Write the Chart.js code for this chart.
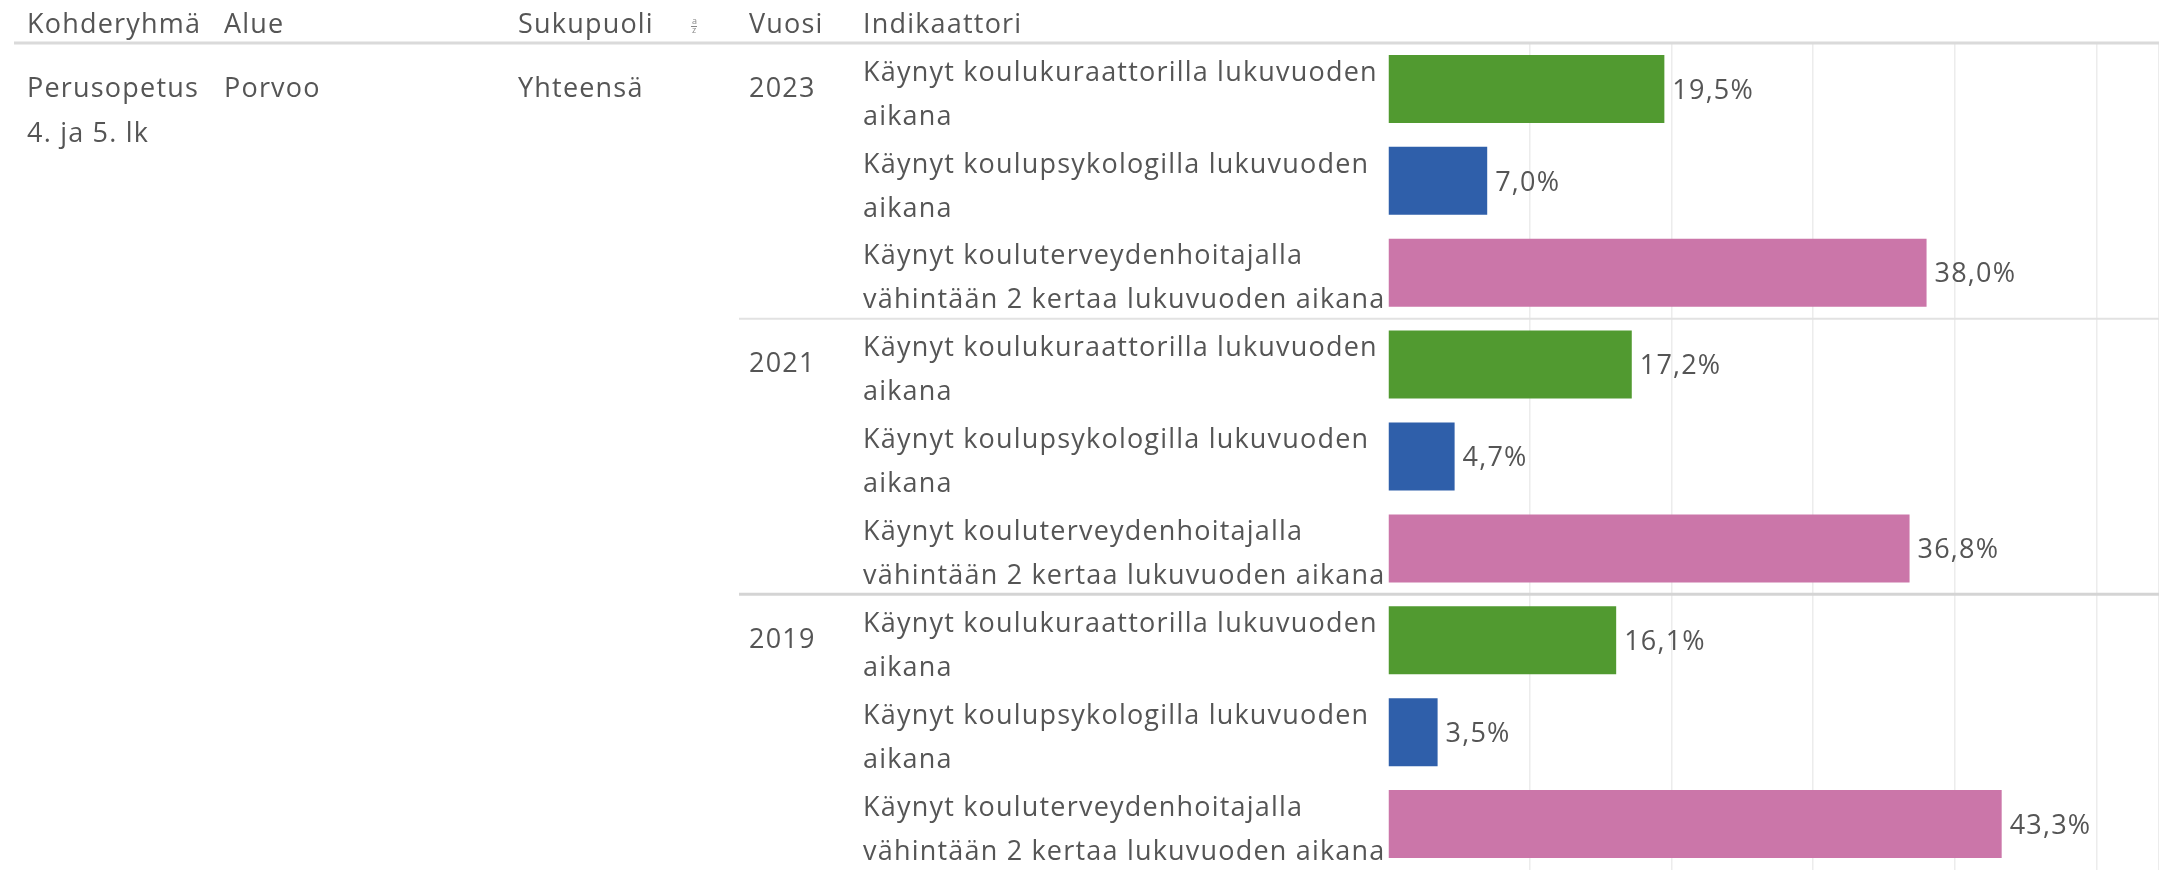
<!DOCTYPE html>
<html lang="fi">
<head>
<meta charset="utf-8">
<title>Kouluterveyskysely</title>
<script src="https://cdn.jsdelivr.net/npm/chart.js@4"></script>
<style>
  html, body { margin: 0; padding: 0; background: #fff; }
  #wrap { width: 2159px; height: 870px; position: relative; }
</style>
</head>
<body>
<div id="wrap"><canvas id="chart" width="2159" height="870"></canvas></div>
<script>
// otsikot ja ryhmät
const headers = ['Kohderyhmä', 'Alue', 'Sukupuoli', 'Vuosi', 'Indikaattori'];
const kohderyhma = ['Perusopetus', '4. ja 5. lk'];
const alue = 'Porvoo';
const sukupuoli = 'Yhteensä';
const years = ['2023', '2021', '2019'];
const indicators = [
  ['Käynyt koulukuraattorilla lukuvuoden', 'aikana'],
  ['Käynyt koulupsykologilla lukuvuoden', 'aikana'],
  ['Käynyt kouluterveydenhoitajalla', 'vähintään 2 kertaa lukuvuoden aikana']
];

// arvot vuosittain (2023, 2021, 2019)
const kuraattori = [19.5, 17.2, 16.1];
const psykologi = [7.0, 4.7, 3.5];
const terveydenhoitaja = [38.0, 36.8, 43.3];

const colors = ['#519a30', '#2f5faa', '#cb76a9'];
const FONT = '"Open Sans", "Noto Sans", sans-serif';
const TEXT = '#555555';
const SIZE = 27;

// rakennetaan rivit: 3 vuotta x 3 indikaattoria
const labels = [];
const values = [];
const barColors = [];
years.forEach((y, i) => {
  [kuraattori, psykologi, terveydenhoitaja].forEach((arr, j) => {
    labels.push(indicators[j]);
    values.push(arr[i]);
    barColors.push(colors[j]);
  });
});

const fmt = v => v.toFixed(1).replace('.', ',') + '%';

// taulukon tekstit, otsikkoviiva ja erotinviivat
const tablePlugin = {
  id: 'table',
  beforeDraw(chart) {
    // Tableau-fontti on harvempi, väljennetään merkkivälejä
    chart.ctx.letterSpacing = '1.2px';
  },
  beforeDatasetsDraw(chart) {
    const ctx = chart.ctx;
    const ys = chart.scales.y;
    const area = chart.chartArea;
    const band = ys.getPixelForValue(1) - ys.getPixelForValue(0);
    ctx.save();
    // otsikkoviiva
    ctx.strokeStyle = '#dadada';
    ctx.lineWidth = 3;
    ctx.beginPath();
    ctx.moveTo(14, area.top);
    ctx.lineTo(chart.width, area.top);
    ctx.stroke();
    // vuosien erottimet
    for (let g = 1; g < years.length; g++) {
      const y = ys.getPixelForValue(g * 3) - band / 2;
      ctx.strokeStyle = g === 1 ? '#e2e2e2' : '#d4d4d4';
      ctx.lineWidth = g === 1 ? 2 : 3;
      ctx.beginPath();
      ctx.moveTo(739, y);
      ctx.lineTo(chart.width, y);
      ctx.stroke();
    }
    ctx.restore();
  },
  afterDraw(chart) {
    const ctx = chart.ctx;
    const ys = chart.scales.y;
    const cols = [27, 224, 518, 749, 863];
    ctx.save();
    ctx.font = SIZE + 'px ' + FONT;
    ctx.fillStyle = TEXT;
    ctx.textBaseline = 'middle';
    ctx.textAlign = 'left';
    headers.forEach((h, i) => ctx.fillText(h, cols[i], 25));
    // lajittelukuvake
    ctx.letterSpacing = '0px';
    ctx.font = '9px ' + FONT;
    ctx.fillStyle = '#888';
    ctx.fillText('a', 692, 21);
    ctx.fillText('z', 692, 30);
    ctx.fillRect(691, 26, 6, 1);
    ctx.letterSpacing = '1.2px';
    ctx.font = SIZE + 'px ' + FONT;
    ctx.fillStyle = TEXT;
    const y0 = ys.getPixelForValue(0);
    ctx.fillText(kohderyhma[0], cols[0], y0);
    ctx.fillText(kohderyhma[1], cols[0], y0 + 45);
    ctx.fillText(alue, cols[1], y0);
    ctx.fillText(sukupuoli, cols[2], y0);
    years.forEach((y, i) => ctx.fillText(y, cols[3], ys.getPixelForValue(i * 3)));
    // arvot palkkien perään
    const meta = chart.getDatasetMeta(0);
    meta.data.forEach((bar, i) => {
      ctx.fillText(fmt(values[i]), bar.x + 8, bar.y + 2);
    });
    ctx.restore();
  }
};

new Chart(document.getElementById('chart'), {
  type: 'bar',
  data: {
    labels: labels,
    datasets: [{
      data: values,
      backgroundColor: barColors,
      borderWidth: 0,
      categoryPercentage: 1,
      barPercentage: 0.74
    }]
  },
  options: {
    indexAxis: 'y',
    responsive: false,
    animation: false,
    events: [],
    layout: { padding: { top: 43, left: 863, right: 0, bottom: 0 } },
    plugins: {
      legend: { display: false },
      title: { display: false },
      tooltip: { enabled: false }
    },
    scales: {
      x: {
        min: 0,
        max: 54.4,
        ticks: { display: false, stepSize: 10 },
        border: { display: false },
        grid: {
          drawTicks: false,
          lineWidth: 1.5,
          color: c => (c.tick && c.tick.value > 0 ? '#ececec' : 'rgba(0,0,0,0)')
        }
      },
      y: {
        border: { display: false },
        grid: { display: false, drawTicks: false },
        afterFit: s => { s.width = 525; s.paddingTop = 0; s.paddingBottom = 0; },
        ticks: {
          crossAlign: 'far',
          padding: 0,
          labelOffset: 6,
          color: TEXT,
          autoSkip: false,
          font: { family: FONT, size: SIZE, lineHeight: 1.63 }
        }
      }
    }
  },
  plugins: [tablePlugin]
});
</script>
</body>
</html>
